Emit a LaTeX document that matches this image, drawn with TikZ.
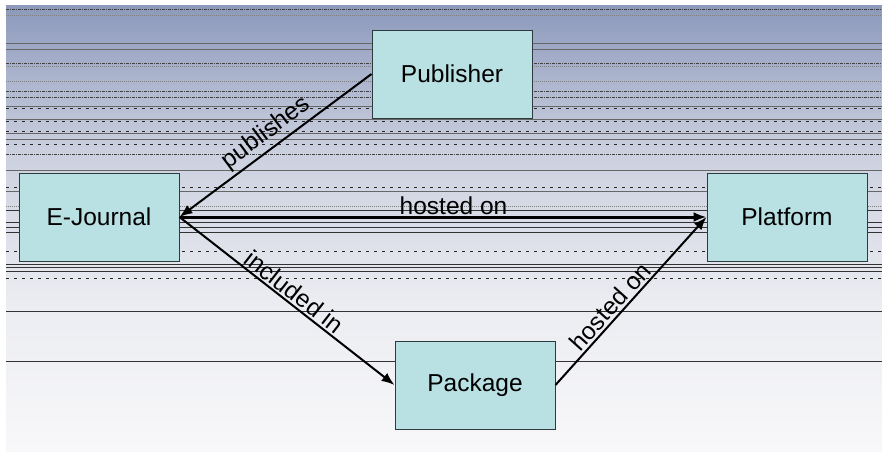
\documentclass[tikz,border=0pt]{standalone}
\usepackage{fontspec}
\setmainfont{Liberation Sans}
\usetikzlibrary{arrows.meta}

\definecolor{bgA}{HTML}{8C99BC}
\definecolor{bgB}{HTML}{CBD0DF}
\definecolor{bgC}{HTML}{EBECF1}
\definecolor{bgD}{HTML}{F8F8FA}
\definecolor{boxfill}{HTML}{B9E0E3}
\definecolor{boxline}{HTML}{2E3B3E}

\tikzset{
  entity/.style={draw=boxline, line width=1pt, fill=boxfill,
    minimum width=160pt, minimum height=88pt, inner sep=0pt,
    font=\fontsize{24.5}{29}\selectfont},
  relation/.style={draw=black, line width=2pt,
    -{Latex[length=13pt,width=10pt]}},
  rellabel/.style={font=\fontsize{24.5}{29}\selectfont, inner sep=2pt},
  bgsolid/.style={draw=black!60, line width=0.8pt},
  bgdark/.style={draw=black!80, line width=0.9pt},
  bgdashdot/.style={draw=black!75, line width=0.8pt,
    dash pattern=on 3pt off 1pt on 1pt off 1pt},
  bgdot/.style={draw=black!50, line width=0.8pt, dash pattern=on 1pt off 1pt},
  bgsparse/.style={draw=black!85, line width=0.8pt, dash pattern=on 3pt off 5pt},
}

\begin{document}
\begin{tikzpicture}[x=1pt, y=-1pt]
  % canvas
  \fill[white] (0,0) rectangle (882,451);
  \useasboundingbox (0,0) rectangle (882,451);

  % graded backdrop
  \shade[top color=bgA, bottom color=bgB] (6,5) rectangle (882,150.5);
  \shade[top color=bgB, bottom color=bgC] (6,150) rectangle (882,300.5);
  \shade[top color=bgC, bottom color=bgD] (6,300) rectangle (882,451);

  % ruled backdrop lines
  \foreach \yy/\sty in {9/bgdashdot, 15/bgdot, 43/bgsolid, 49/bgsolid,
      63/bgdashdot, 66/bgdot, 81/bgdot, 91/bgdashdot, 97/bgdashdot,
      106/bgsolid, 108/bgsparse, 119/bgsolid, 121/bgsparse, 131/bgsparse,
      133/bgsolid, 139/bgsolid, 144/bgsparse, 154/bgdashdot, 170/bgsolid,
      187/bgsparse, 191/bgsolid, 206/bgdot, 210/bgdark, 222/bgdark,
      227/bgdark, 232/bgdark, 251/bgsparse, 264/bgdark,
      267/bgdark, 271/bgdark, 278/bgsparse, 311/bgdark, 361/bgdark} {
    \draw[\sty] (6,\yy) -- (882,\yy);
  }

  % entities
  \node[entity] (pub) at (452,74)  {Publisher};
  \node[entity] (ej)  at (99,217)  {E-Journal};
  \node[entity] (plt) at (787,217) {Platform};
  \node[entity] (pkg) at (475,385) {Package};

  % relations
  \draw[relation] (pub.west) -- (ej.east)
    node[rellabel, sloped, above, pos=0.5, inner sep=3pt] {publishes};
  \draw[relation, line width=3pt] (ej.east) -- (plt.west)
    node[rellabel, above, pos=0.52, inner sep=1pt] {hosted on};
  \draw[relation] (ej.east) -- (pkg.west)
    node[rellabel, sloped, above, pos=0.5] {included in};
  \draw[relation] (pkg.east) -- (plt.west)
    node[rellabel, sloped, above, pos=0.42] {hosted on};
\end{tikzpicture}
\end{document}
